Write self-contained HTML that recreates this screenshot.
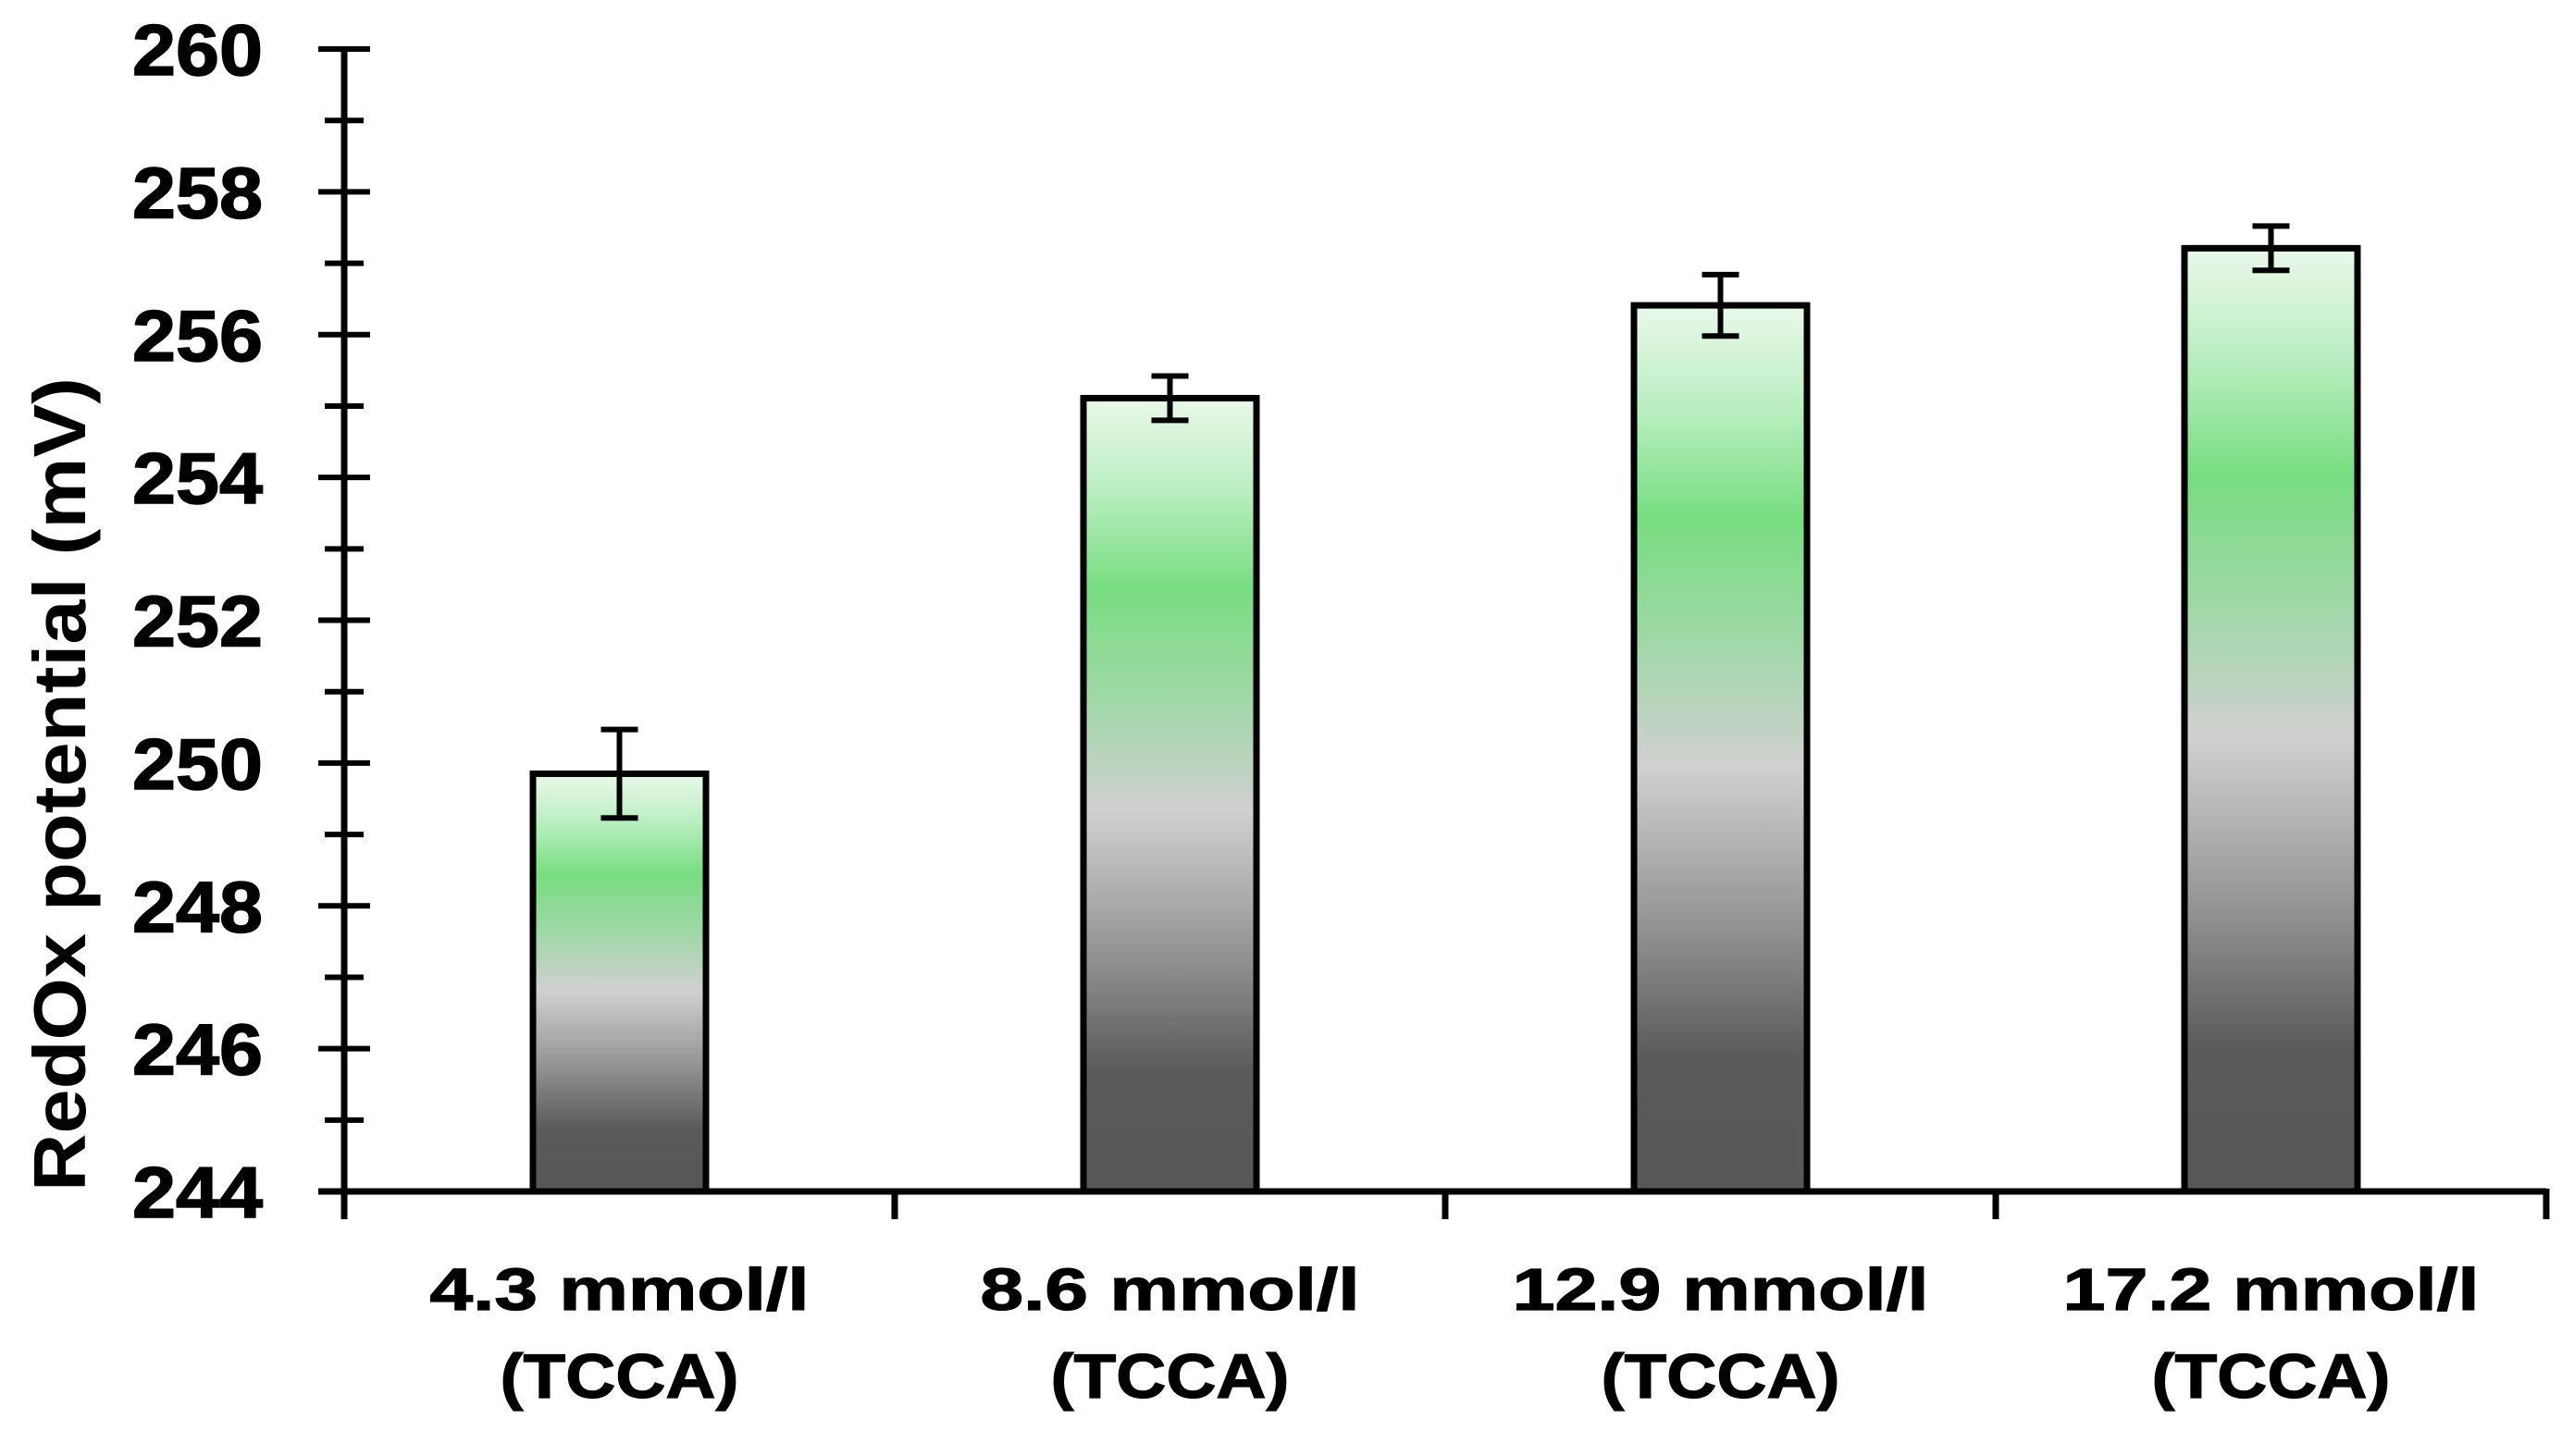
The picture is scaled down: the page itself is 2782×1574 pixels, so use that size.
<!DOCTYPE html>
<html><head><meta charset="utf-8"><style>
html,body{margin:0;padding:0;background:#fff;}
svg{display:block;font-family:"Liberation Sans",Arial,sans-serif;font-weight:bold;}
</style></head><body>
<svg id="chart" width="2782" height="1574" viewBox="0 0 2782 1574" xmlns="http://www.w3.org/2000/svg">
<defs>
<linearGradient id="barGrad" x1="0" y1="0" x2="0" y2="1">
<stop offset="0" stop-color="#eaf8ea"/>
<stop offset="0.12" stop-color="#b8eebf"/>
<stop offset="0.24" stop-color="#77dd80"/>
<stop offset="0.40" stop-color="#a6d7ad"/>
<stop offset="0.52" stop-color="#d0d0d0"/>
<stop offset="0.70" stop-color="#939393"/>
<stop offset="0.85" stop-color="#5a5a5a"/>
<stop offset="1" stop-color="#575757"/>
</linearGradient>
</defs>
<g id="plot"></g>
</svg>
<script>
const categoriesLine1 = ["4.3 mmol/l", "8.6 mmol/l", "12.9 mmol/l", "17.2 mmol/l"];
const categoriesLine2 = ["(TCCA)", "(TCCA)", "(TCCA)", "(TCCA)"];
const values = [249.85, 255.11, 256.41, 257.21];
const errors = [0.62, 0.31, 0.43, 0.31];
const yTicks = [244, 246, 248, 250, 252, 254, 256, 258, 260];
const yMinor = [245, 247, 249, 251, 253, 255, 257, 259];

const NS = "http://www.w3.org/2000/svg";
const g = document.getElementById("plot");
const X0 = 372, X1 = 2752, Y0 = 1288, Y1 = 53, VMIN = 244, VMAX = 260;
const n = categoriesLine1.length;
const step = (X1 - X0) / n;
function yScale(v){ return Y0 - (v - VMIN) / (VMAX - VMIN) * (Y0 - Y1); }
function xCenter(i){ return X0 + step * (i + 0.5); }
function mk(tag, attrs){ const e = document.createElementNS(NS, tag); for (const k in attrs) e.setAttribute(k, attrs[k]); g.appendChild(e); return e; }

const bw = 187;
values.forEach((v, i) => {
  const cx = xCenter(i);
  const r = mk("rect", {x: cx - bw/2, y: yScale(v), width: bw, height: Y0 - yScale(v), fill: "url(#barGrad)", stroke: "#000", "stroke-width": 7});
  
  
  const e = errors[i];
  const eb = mk("path", {d: `M${cx},${yScale(v+e)}V${yScale(v-e)}M${cx-20},${yScale(v+e)}H${cx+20}M${cx-20},${yScale(v-e)}H${cx+20}`, stroke: "#000", "stroke-width": 6, fill: "none"});
  
  
});

const ya = mk("line", {x1: X0, y1: Y1 - 3, x2: X0, y2: Y0 + 30, stroke: "#000", "stroke-width": 7});


yTicks.forEach(t => {
  const y = yScale(t);
  const tk = mk("line", {x1: X0 - 28, y1: y, x2: X0 + 28, y2: y, stroke: "#000", "stroke-width": 6});
  
  
  const lb = mk("text", {x: 284, y: y + 28, "text-anchor": "end", "font-size": 78, textLength: 141, lengthAdjust: "spacingAndGlyphs", stroke: "#000", "stroke-width": 1.5});
  lb.textContent = t;
  
  
});
yMinor.forEach(t => {
  const y = yScale(t);
  const tk = mk("line", {x1: X0 - 21, y1: y, x2: X0 + 21, y2: y, stroke: "#000", "stroke-width": 6});
  
  
});

const xa = mk("line", {x1: X0 - 28, y1: Y0, x2: X1, y2: Y0, stroke: "#000", "stroke-width": 7});


for (let i = 1; i <= n; i++) {
  const x = X0 + step * i;
  const tk = mk("line", {x1: x, y1: Y0 - 3, x2: x, y2: Y0 + 30, stroke: "#000", "stroke-width": 7});
  
  
}
categoriesLine1.forEach((c, i) => {
  const cx = xCenter(i);
  const w1 = c.length > 10 ? 450 : 410;
  const t1 = mk("text", {x: cx, y: 1416, "text-anchor": "middle", "font-size": 64, textLength: w1, lengthAdjust: "spacingAndGlyphs", stroke: "#000", "stroke-width": 1.2});
  t1.textContent = c;
  
  
  const t2 = mk("text", {x: cx, y: 1511, "text-anchor": "middle", "font-size": 68, textLength: 258, lengthAdjust: "spacingAndGlyphs", stroke: "#000", "stroke-width": 1.2});
  t2.textContent = categoriesLine2[i];
  
  
});

const yt = mk("text", {x: 0, y: 0, transform: "translate(92,848) rotate(-90)", "text-anchor": "middle", "font-size": 80, textLength: 880, lengthAdjust: "spacingAndGlyphs"});
yt.textContent = "RedOx potential (mV)";


</script>
</body></html>
